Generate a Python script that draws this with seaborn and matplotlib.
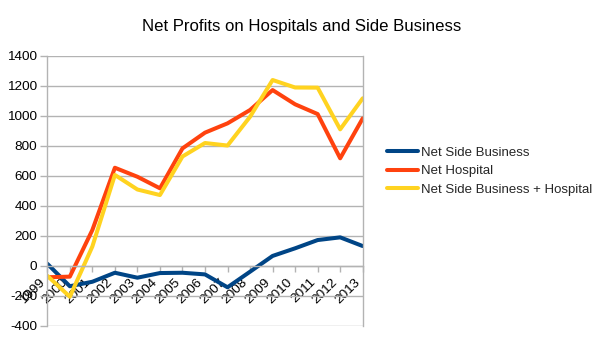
import matplotlib
matplotlib.use("Agg")
import matplotlib.pyplot as plt
import seaborn as sns
import pandas as pd

years = [str(y) for y in range(1999, 2014)]
net_side_business = [15, -135, -105, -45, -78, -47, -45, -56, -142, -38, 67, 118, 173, 191, 133]
net_hospital = [-75, -71, 240, 655, 595, 518, 784, 889, 951, 1040, 1173, 1078, 1013, 718, 984]
net_combined = [-65, -205, 130, 607, 510, 473, 730, 820, 803, 995, 1240, 1190, 1189, 911, 1118]

series_names = ["Net Side Business", "Net Hospital", "Net Side Business + Hospital"]
series_colors = ["#004586", "#ff420e", "#ffd320"]
y_ticks = list(range(-400, 1401, 200))

df = pd.DataFrame({
    "Year": years * 3,
    "Value": net_side_business + net_hospital + net_combined,
    "Series": [series_names[0]] * 15 + [series_names[1]] * 15 + [series_names[2]] * 15,
})

sns.set_theme(style="white")
plt.rcParams["font.family"] = ["Liberation Sans", "DejaVu Sans"]

fig = plt.figure(figsize=(6.05, 3.40), dpi=100)
ax = fig.add_axes([47.3 / 605, 1 - 326 / 340, (362.7 - 47.3) / 605, 270 / 340])

sns.lineplot(data=df, x="Year", y="Value", hue="Series", hue_order=series_names,
             palette=series_colors, linewidth=2.9, sort=False, ax=ax, legend=True)

grid_color = "#b3b3b3"
ax.set_ylim(-400, 1400)
ax.set_xlim(0, len(years) - 1)
ax.set_yticks(y_ticks)
ax.set_yticklabels([str(v) for v in y_ticks])
ax.yaxis.grid(True, color=grid_color, linewidth=1.0)
ax.set_axisbelow(True)
ax.set_xlabel("")
ax.set_ylabel("")

for side in ["left", "right", "bottom"]:
    ax.spines[side].set_visible(True)
    ax.spines[side].set_color(grid_color)
    ax.spines[side].set_linewidth(1.0)
ax.spines["top"].set_visible(False)
ax.spines["bottom"].set_position(("data", 0))

ax.tick_params(axis="y", direction="out", length=4.8, width=1.0, color=grid_color,
               pad=2.5, labelsize=9.7, labelcolor="#000000", left=True)
ax.tick_params(axis="x", direction="out", length=4.5, width=1.0, color=grid_color,
               pad=3.0, labelsize=9.7, labelcolor="#000000", bottom=True)
ax.set_xticks(range(len(years)))
ax.set_xticklabels(years, rotation=45, ha="right", va="top")

ax.get_legend().remove()
handles, labels = ax.get_legend_handles_labels()
fig.legend(handles, labels, loc="center left", bbox_to_anchor=(387 / 605, 1 - 171 / 340),
           frameon=False, fontsize=9.5, handlelength=2.35, handletextpad=0.25,
           labelspacing=0.48, borderpad=0, borderaxespad=0)

fig.suptitle("Net Profits on Hospitals and Side Business", x=301.7 / 605, y=1 - 26 / 340,
             va="center", fontsize=12.1, color="#000000")

fig.savefig("out.png", dpi=100, facecolor="white")
